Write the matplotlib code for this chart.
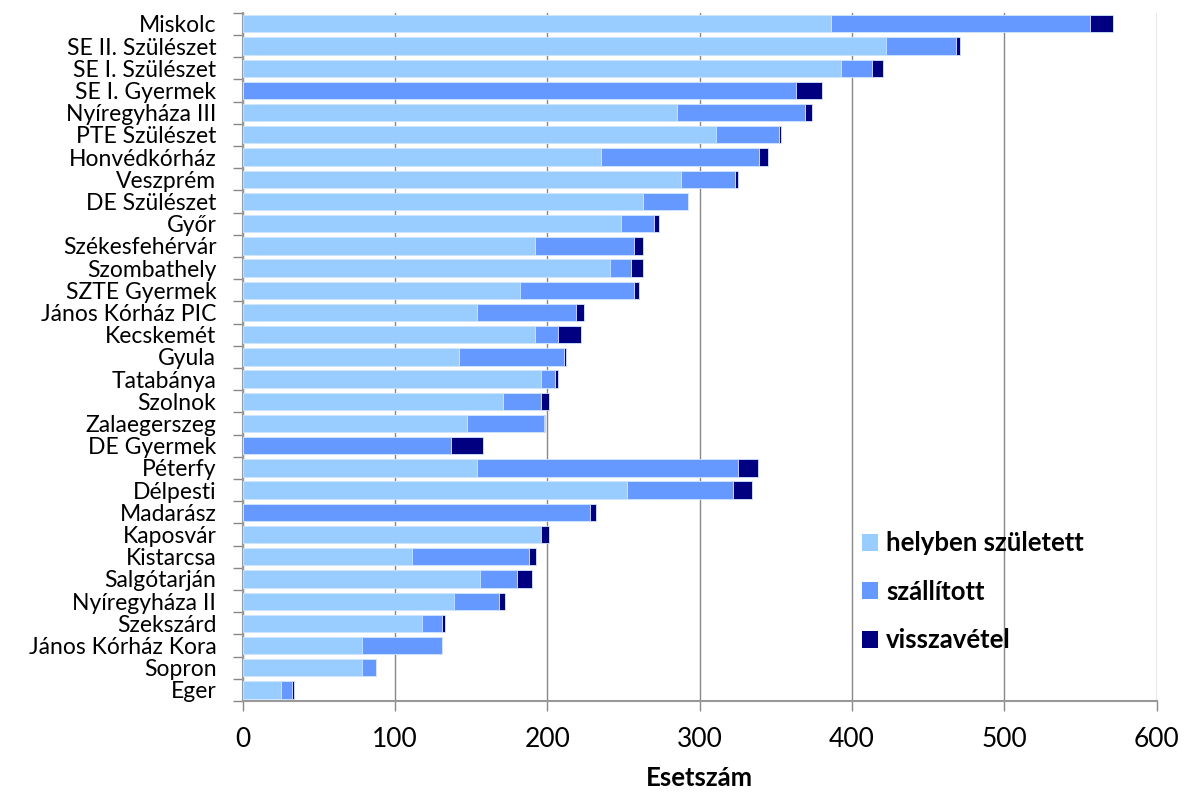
import numpy as np
import matplotlib.pyplot as plt
from matplotlib.patches import Patch

hospitals = ['Miskolc', 'SE II. Szülészet', 'SE I. Szülészet', 'SE I. Gyermek',
             'Nyíregyháza III', 'PTE Szülészet', 'Honvédkórház', 'Veszprém',
             'DE Szülészet', 'Győr', 'Székesfehérvár', 'Szombathely',
             'SZTE Gyermek', 'János Kórház PIC', 'Kecskemét', 'Gyula',
             'Tatabánya', 'Szolnok', 'Zalaegerszeg', 'DE Gyermek', 'Péterfy',
             'Délpesti', 'Madarász', 'Kaposvár', 'Kistarcsa', 'Salgótarján',
             'Nyíregyháza II', 'Szekszárd', 'János Kórház Kora', 'Sopron', 'Eger']

helyben = [386, 422, 393, 0, 285, 311, 235, 288, 263, 248, 192, 241, 182, 154,
           192, 142, 196, 171, 147, 0, 154, 252, 0, 196, 111, 156, 139, 118,
           78.5, 78.5, 25]
szallitott = [170, 46, 20, 363, 84, 41, 104, 35, 29, 22, 65, 14, 75, 65, 15,
              69, 9, 25, 51, 137, 171, 70, 228, 0, 77, 24, 29, 13, 52, 9, 7]
visszavetel = [15, 3, 7, 17, 5, 1.5, 6, 2, 0, 3, 6, 8, 3, 5, 15, 1.5, 2, 5,
               0.5, 21, 13, 12, 4, 5, 4.5, 10, 4, 2, 0, 0, 1.5]

series = [('helyben született', helyben, '#99CCFF'),
          ('szállított', szallitott, '#6699FF'),
          ('visszavétel', visszavetel, '#000080')]

plt.rcParams['font.family'] = ['Lato', 'DejaVu Sans']

fig = plt.figure(figsize=(11.9, 7.94), dpi=100)
ax = fig.add_axes([0.204, 0.117, 0.768, 0.867])

y = np.arange(len(hospitals))
left = np.zeros(len(hospitals))
for name, vals, col in series:
    vals = np.array(vals, dtype=float)
    ax.barh(y, vals, left=left, height=0.78, color=col,
            edgecolor='#cfe6ff', linewidth=0.6, label=name, zorder=3)
    left += vals

ax.set_ylim(len(hospitals) - 0.5, -0.5)
ax.set_xlim(0, 600)
ax.set_xticks(np.arange(0, 601, 100))
ax.set_yticks(y)
ax.set_yticklabels(hospitals, fontsize=16.5)
ax.tick_params(axis='y', length=0, pad=19)
ax.set_yticks(np.arange(-0.5, len(hospitals), 1), minor=True)
ax.tick_params(axis='y', which='minor', length=7, color='#888888', width=1)
ax.tick_params(axis='x', length=7, color='#888888', width=1, labelsize=19, pad=12)

ax.grid(axis='x', color='#888888', linewidth=1, zorder=0)
for s in ['top', 'right']:
    ax.spines[s].set_visible(False)
for s in ['left', 'bottom']:
    ax.spines[s].set_color('#999999')
    ax.spines[s].set_linewidth(1.5)

ax.set_xlabel('Esetszám', fontsize=18.5, fontweight='bold', labelpad=10)

handles = [Patch(facecolor=c, edgecolor='none', label=n) for n, v, c in series]
leg = ax.legend(handles=handles, loc='upper left', bbox_to_anchor=(0.652, 0.28),
                frameon=False, prop={'weight': 'bold', 'size': 18.5},
                handlelength=0.65, handleheight=0.65, handletextpad=0.3,
                labelspacing=0.95)
leg.set_zorder(5)

fig.savefig('out.png', dpi=100)
